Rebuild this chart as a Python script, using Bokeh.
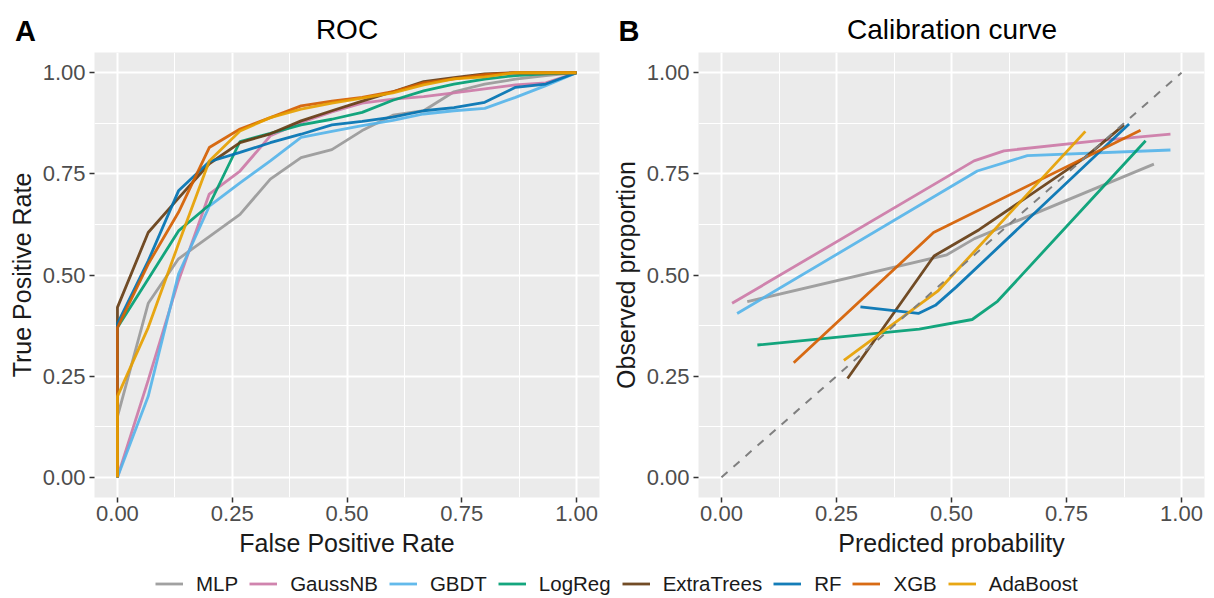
from bokeh.plotting import figure
from bokeh.models import FixedTicker, NumeralTickFormatter, Legend, LegendItem, Range1d
from bokeh.layouts import column, row
from bokeh.core.properties import value
from bokeh.embed import file_html
from bokeh.resources import INLINE

FONT = "Liberation Sans"

MODELS = ["MLP", "GaussNB", "GBDT", "LogReg", "ExtraTrees", "RF", "XGB", "AdaBoost"]
COLORS = ["#999999", "#CC79A7", "#56B4E9", "#009E73", "#663D14", "#0072B2", "#D55E00", "#E69F00"]

# ROC curves (false positive rate, true positive rate)
FPR = [0.0, 0.0, 0.067, 0.133, 0.2, 0.267, 0.333, 0.4, 0.467, 0.533,
       0.6, 0.667, 0.733, 0.8, 0.867, 0.933, 1.0]
TPR_MLP = [0.0, 0.15, 0.43, 0.54, 0.595, 0.65, 0.737, 0.79, 0.81, 0.857,
           0.895, 0.906, 0.953, 0.972, 0.984, 0.993, 1.0]
TPR_GAUSSNB = [0.0, 0.0, 0.24, 0.486, 0.70, 0.757, 0.844, 0.877, 0.903, 0.925,
               0.935, 0.941, 0.95, 0.96, 0.97, 0.975, 1.0]
TPR_GBDT = [0.0, 0.0, 0.2, 0.502, 0.67, 0.728, 0.782, 0.84, 0.855, 0.869,
            0.882, 0.898, 0.906, 0.912, 0.939, 0.968, 1.0]
TPR_LOGREG = [0.0, 0.37, 0.49, 0.609, 0.673, 0.83, 0.85, 0.871, 0.885, 0.902,
              0.932, 0.955, 0.972, 0.984, 0.993, 0.997, 1.0]
TPR_EXTRATREES = [0.0, 0.42, 0.605, 0.69, 0.775, 0.827, 0.849, 0.881, 0.906, 0.93,
                  0.953, 0.978, 0.988, 0.997, 1.0, 1.0, 1.0]
TPR_RF = [0.0, 0.38, 0.535, 0.708, 0.78, 0.803, 0.827, 0.848, 0.871, 0.88,
          0.89, 0.906, 0.914, 0.927, 0.964, 0.972, 1.0]
TPR_XGB = [0.0, 0.37, 0.527, 0.655, 0.815, 0.861, 0.889, 0.918, 0.93, 0.939,
           0.953, 0.975, 0.985, 0.995, 1.0, 1.0, 1.0]
TPR_ADABOOST = [0.0, 0.2, 0.37, 0.577, 0.782, 0.856, 0.889, 0.91, 0.925, 0.937,
                0.95, 0.97, 0.985, 0.99, 1.0, 1.0, 1.0]
TPRS = [TPR_MLP, TPR_GAUSSNB, TPR_GBDT, TPR_LOGREG, TPR_EXTRATREES, TPR_RF, TPR_XGB, TPR_ADABOOST]

# Calibration curves (mean predicted probability, observed proportion)
CAL_MLP_X = [0.056, 0.49, 0.55, 0.94]
CAL_MLP_Y = [0.434, 0.55, 0.59, 0.774]
CAL_GAUSSNB_X = [0.023, 0.549, 0.614, 0.82, 0.976]
CAL_GAUSSNB_Y = [0.43, 0.782, 0.807, 0.832, 0.848]
CAL_GBDT_X = [0.034, 0.556, 0.665, 0.976]
CAL_GBDT_Y = [0.405, 0.757, 0.795, 0.809]
CAL_LOGREG_X = [0.078, 0.43, 0.545, 0.6, 0.922]
CAL_LOGREG_Y = [0.327, 0.366, 0.39, 0.435, 0.832]
CAL_EXTRATREES_X = [0.274, 0.462, 0.56, 0.79, 0.875]
CAL_EXTRATREES_Y = [0.244, 0.547, 0.612, 0.79, 0.871]
CAL_RF_X = [0.302, 0.428, 0.465, 0.51, 0.886]
CAL_RF_Y = [0.421, 0.405, 0.425, 0.47, 0.873]
CAL_XGB_X = [0.157, 0.461, 0.911]
CAL_XGB_Y = [0.283, 0.605, 0.858]
CAL_ADABOOST_X = [0.266, 0.47, 0.791]
CAL_ADABOOST_Y = [0.289, 0.46, 0.855]
CAL_X = [CAL_MLP_X, CAL_GAUSSNB_X, CAL_GBDT_X, CAL_LOGREG_X, CAL_EXTRATREES_X, CAL_RF_X, CAL_XGB_X, CAL_ADABOOST_X]
CAL_Y = [CAL_MLP_Y, CAL_GAUSSNB_Y, CAL_GBDT_Y, CAL_LOGREG_Y, CAL_EXTRATREES_Y, CAL_RF_Y, CAL_XGB_Y, CAL_ADABOOST_Y]
DIAG = [0.0, 1.0]

TICKS = [0.0, 0.25, 0.5, 0.75, 1.0]
MINOR = [0.125, 0.375, 0.625, 0.875]
PANEL_TAGS = ["A", "B"]
PANEL_TITLES = ["ROC", "Calibration curve"]
LW = 2.8


def panel(width, mbl, mbr, xlabel, ylabel):
    p = figure(width=width, height=514, x_range=Range1d(-0.05, 1.05), y_range=Range1d(-0.05, 1.05),
               output_backend="svg", toolbar_location=None,
               min_border_left=mbl, min_border_right=mbr, min_border_top=0, min_border_bottom=69,
               background_fill_color="#EBEBEB", border_fill_color="white", outline_line_color=None)
    for ax in (p.xaxis[0], p.yaxis[0]):
        ax.ticker = FixedTicker(ticks=TICKS, minor_ticks=MINOR)
        ax.formatter = NumeralTickFormatter(format="0.00")
        ax.axis_line_color = None
        ax.major_tick_line_color = "#333333"
        ax.major_tick_line_width = 1.5
        ax.major_tick_out = 5
        ax.major_tick_in = 0
        ax.minor_tick_line_color = None
        ax.major_label_text_font = FONT
        ax.major_label_text_font_size = "22px"
        ax.major_label_text_color = "#4D4D4D"
        ax.axis_label_text_font = FONT
        ax.axis_label_text_font_size = "25px"
        ax.axis_label_text_font_style = "normal"
        ax.axis_label_text_color = "#1A1A1A"
    p.xaxis.axis_label = xlabel
    p.yaxis.axis_label = ylabel
    p.xaxis.major_label_standoff = 3
    p.yaxis.major_label_standoff = 4
    p.xaxis.axis_label_standoff = 5
    p.yaxis.axis_label_standoff = 4
    p.grid.grid_line_color = "white"
    p.grid.grid_line_width = 2
    p.grid.minor_grid_line_color = "white"
    p.grid.minor_grid_line_width = 1
    return p


# header with panel tags and titles (y measured upward from the header's bottom)
ph = figure(width=1214, height=52, output_backend="svg", toolbar_location=None,
            x_axis_type=None, y_axis_type=None, min_border=0, outline_line_color=None,
            x_range=Range1d(0, 1214), y_range=Range1d(0, 52))
ph.grid.visible = False
ph.text(x=[14.5, 618], y=[22, 22], text=PANEL_TAGS, text_font=value(FONT), text_font_size="29px",
        text_font_style="bold", text_baseline="middle", text_align="left", text_color="black")
ph.text(x=[346.5, 951.5], y=[23, 23], text=PANEL_TITLES, text_font=value(FONT), text_font_size="28px",
        text_baseline="middle", text_align="center", text_color="black")

p1 = panel(606, 94, 7, "False Positive Rate", "True Positive Rate")
for tpr, c in zip(TPRS, COLORS):
    p1.line(FPR, tpr, line_color=c, line_width=LW, line_alpha=0.92)

p2 = panel(608, 92, 10, "Predicted probability", "Observed proportion")
for xs, ys, c in zip(CAL_X, CAL_Y, COLORS):
    p2.line(xs, ys, line_color=c, line_width=LW, line_alpha=0.92)
p2.line(DIAG, DIAG, line_color="#7F7F7F", line_width=2, line_dash="8 8")

pl = figure(width=1214, height=30, output_backend="svg", toolbar_location=None,
            x_axis_type=None, y_axis_type=None, min_border=0, outline_line_color=None,
            x_range=Range1d(0, 1), y_range=Range1d(0, 1))
pl.grid.visible = False
items = []
for m, c in zip(MODELS, COLORS):
    r = pl.line([-5, -4], [-5, -5], line_color=c, line_width=LW, line_alpha=0.92)
    items.append(LegendItem(label=m, renderers=[r]))
leg = Legend(items=items, orientation="horizontal", location=(155, 0),
             glyph_width=28, glyph_height=25, label_standoff=13, spacing=11,
             padding=0, margin=0, border_line_color=None, background_fill_alpha=0,
             label_text_font=FONT, label_text_font_size="20.5px", label_text_color="#1A1A1A")
pl.add_layout(leg)

layout = column(ph, row(p1, p2), pl)
open("out.html", "w").write(file_html(layout, INLINE))
